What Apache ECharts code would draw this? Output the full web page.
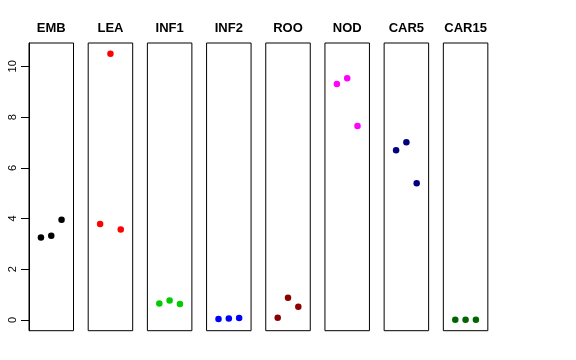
<!DOCTYPE html>
<html><head><meta charset="utf-8">
<script src="https://cdn.jsdelivr.net/npm/echarts@6/dist/echarts.min.js"></script>
<style>html,body{margin:0;padding:0;background:#fff}#c{width:576px;height:360px}</style>
</head><body><div id="c"></div>
<script>
var categories = ["EMB","LEA","INF1","INF2","ROO","NOD","CAR5","CAR15"];
var colors = ["#000000","#FF0000","#00CD00","#0000FF","#8B0000","#FF00FF","#000080","#006400"];
var xPositions = [1, 2, 3];
var EMB = [3.25, 3.32, 3.95];
var LEA = [3.79, 10.50, 3.57];
var INF1 = [0.65, 0.77, 0.63];
var INF2 = [0.04, 0.06, 0.08];
var ROO = [0.09, 0.88, 0.52];
var NOD = [9.30, 9.53, 7.65];
var CAR5 = [6.69, 7.01, 5.39];
var CAR15 = [0.01, 0.01, 0.01];
var yTicks = [0, 2, 4, 6, 8, 10];
var seriesValues = [EMB, LEA, INF1, INF2, ROO, NOD, CAR5, CAR15];

var grids = [], xAxes = [], yAxes = [], series = [], titles = [];
var left0 = 29, step = 59.19, w = 44.5, yMin = -0.42, yMax = 10.92;
for (var i = 0; i < categories.length; i++) {
  var gl = left0 + step * i;
  grids.push({left: gl, width: w, top: 43, bottom: 29.3, show: true, borderColor: '#000', borderWidth: 1});
  titles.push({text: categories[i], left: gl + w / 2, top: 22, padding: 0, textAlign: 'center',
    textStyle: {fontFamily: 'Liberation Sans', fontWeight: 'bold', fontSize: 13, color: '#000'}});
  xAxes.push({type: 'value', gridIndex: i, min: -0.16, max: 4.16, show: false});
  yAxes.push({gridIndex: i, min: yMin, max: yMax, show: false});
  series.push({type: 'scatter', xAxisIndex: i, yAxisIndex: i, symbol: 'circle', symbolSize: 6.5,
    itemStyle: {color: colors[i], opacity: 1}, silent: true,
    data: xPositions.map(function (x, j) { return [x, seriesValues[i][j]]; })});
}
// axis-only grid overlaying the first panel (carries the shared y axis)
var ai = categories.length;
grids.push({left: left0, width: w, top: 43, bottom: 29.3, show: false});
xAxes.push({gridIndex: ai, show: false});
yAxes.push({gridIndex: ai, min: yMin, max: yMax,
  axisLine: {show: true, lineStyle: {color: '#000'}},
  axisTick: {show: true, length: 8, customValues: yTicks, lineStyle: {color: '#000'}},
  axisLabel: {customValues: yTicks, rotate: 90, margin: 11, fontFamily: 'Liberation Sans', fontSize: 11, color: '#000'},
  splitLine: {show: false}});
var chart = echarts.init(document.getElementById('c'));
chart.setOption({animation: false, title: titles, grid: grids, xAxis: xAxes, yAxis: yAxes, series: series});
</script></body></html>
